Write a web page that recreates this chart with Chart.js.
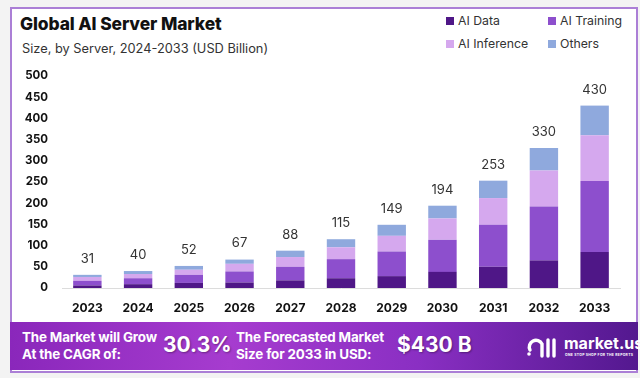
<!DOCTYPE html>
<html>
<head>
<meta charset="utf-8">
<script src="https://cdn.jsdelivr.net/npm/chart.js@4"></script>
<style>
  body { margin: 0; width: 640px; height: 378px; background: #f3f3f3; font-family: Inter, "Open Sans", sans-serif; overflow: hidden; }
  .card { position: absolute; left: 10px; top: 7px; width: 624px; height: 362px; background: #fff; border: 2px solid #ab7fd6; }
  .title { position: absolute; left: 20px; top: 13px; font-size: 17.4px; font-weight: 800; color: #111; letter-spacing: -0.1px; }
  .subtitle { position: absolute; left: 22px; top: 41px; font-size: 12.8px; color: #333; }
  .legend { position: absolute; left: 446px; top: 13px; width: 190px; font-size: 12.3px; color: #333; }
  .legend span { position: absolute; white-space: nowrap; }
  .legend i { display: inline-block; width: 8px; height: 8px; margin-right: 4px; vertical-align: 0px; }
  #wrap { position: absolute; left: 10px; top: 63px; width: 620px; height: 255px; }
  .banner { position: absolute; left: 10px; top: 322px; width: 628px; height: 48px;
    background: linear-gradient(90deg, #8a27bb 0%, #a63ccf 35%, #8a2fc3 65%, #53188f 100%); color: #fff; }
  .banner div { position: absolute; font-weight: 700; white-space: nowrap; }
  .small { font-size: 13.4px; line-height: 17px; top: 7px; letter-spacing: -0.15px; }
  .big { font-size: 21px; top: 10px; text-shadow: 1px 1px 2px rgba(0,0,0,0.35); }
  .logo { left: 554px; top: 11px; font-size: 16px; }
  .tag { left: 555px; top: 31px; font-size: 3.4px; letter-spacing: 0.3px; }
</style>
</head>
<body>
<div class="card"></div>
<div class="title">Global AI Server Market</div>
<div class="subtitle">Size, by Server, 2024-2033 (USD Billion)</div>
<div class="legend" id="legend"></div>
<div id="wrap"><canvas id="chart" width="620" height="255"></canvas></div>
<div class="banner">
  <div class="small" style="left:12px">The Market will Grow<br>At the CAGR of:</div>
  <div class="big" style="left:153px">30.3%</div>
  <div class="small" style="left:226px">The Forecasted Market<br>Size for 2033 in USD:</div>
  <div class="big" style="left:387px">$430 B</div>
  <svg style="position:absolute;left:516px;top:12px" width="32" height="24" viewBox="0 0 32 24">
    <path d="M4 16 A6 6 0 0 1 16 10 L16 22" stroke="#fff" stroke-width="3.4" fill="none" stroke-linecap="round"/>
    <circle cx="3" cy="20" r="1.8" fill="#fff"/>
    <line x1="22" y1="6" x2="22" y2="22" stroke="#fff" stroke-width="3.4" stroke-linecap="round"/>
    <line x1="28" y1="6" x2="28" y2="22" stroke="#fff" stroke-width="3.4" stroke-linecap="round"/>
  </svg>
  <div class="logo">market.us</div>
  <div class="tag">ONE STOP SHOP FOR THE REPORTS</div>
</div>
<script>
const years = ['2023', '2024', '2025', '2026', '2027', '2028', '2029', '2030', '2031', '2032', '2033'];
const aiData = [6, 9, 12, 13, 18, 23, 28, 38, 50, 65, 85];
const aiTraining = [11, 14, 19, 26, 32, 45, 58, 76, 99, 127, 167];
const aiInference = [9, 10, 12, 18, 23, 28, 37, 50, 63, 85, 108];
const others = [5, 7, 9, 10, 15, 19, 26, 30, 41, 53, 70];
const totals = [31, 40, 52, 67, 88, 115, 149, 194, 253, 330, 430];
const yTicks = [0, 50, 100, 150, 200, 250, 300, 350, 400, 450, 500];

const series = [
  { label: 'AI Data', data: aiData, color: '#4f1787' },
  { label: 'AI Training', data: aiTraining, color: '#8d4fcd' },
  { label: 'AI Inference', data: aiInference, color: '#d5a8ee' },
  { label: 'Others', data: others, color: '#8fa9dd' }
];

// legend, 2 x 2
const legendBox = document.getElementById('legend');
series.forEach((s, i) => {
  const el = document.createElement('span');
  el.style.left = (i % 2) * 102 + 'px';
  el.style.top = Math.floor(i / 2) * 23 + 'px';
  el.innerHTML = `<i style="background:${s.color}"></i>${s.label}`;
  legendBox.appendChild(el);
});

const totalLabels = {
  id: 'totalLabels',
  afterDatasetsDraw(chart) {
    const ctx = chart.ctx;
    const meta = chart.getDatasetMeta(series.length - 1);
    ctx.save();
    ctx.font = '13px Inter, "Open Sans", sans-serif';
    ctx.fillStyle = '#333';
    ctx.textAlign = 'center';
    ctx.textBaseline = 'middle';
    meta.data.forEach((bar, i) => {
      ctx.fillText(totals[i], bar.x, bar.y - 16);
    });
    ctx.restore();
  }
};

new Chart(document.getElementById('chart'), {
  type: 'bar',
  data: {
    labels: years,
    datasets: series.map(s => ({
      label: s.label,
      data: s.data,
      backgroundColor: s.color,
      barPercentage: 0.56,
      categoryPercentage: 1
    }))
  },
  options: {
    responsive: false,
    animation: false,
    layout: { padding: { top: 11, right: 10, left: 0, bottom: 0 } },
    plugins: { legend: { display: false }, tooltip: { enabled: false } },
    scales: {
      x: {
        stacked: true,
        grid: { display: false },
        border: { color: '#dcdcdc' },
        ticks: { color: '#111', font: { family: 'Inter', size: 12, weight: 'bold' }, padding: 5 },
        afterFit: s => { s.height = 30; }
      },
      y: {
        stacked: true,
        min: 0,
        max: 500,
        afterBuildTicks: s => { s.ticks = yTicks.map(v => ({ value: v })); },
        grid: { display: false },
        border: { display: false },
        ticks: { color: '#111', font: { family: 'Inter', size: 11.5, weight: 'bold' }, padding: 6 },
        afterFit: s => { s.width = 52; }
      }
    }
  },
  plugins: [totalLabels]
});
</script>
</body>
</html>
